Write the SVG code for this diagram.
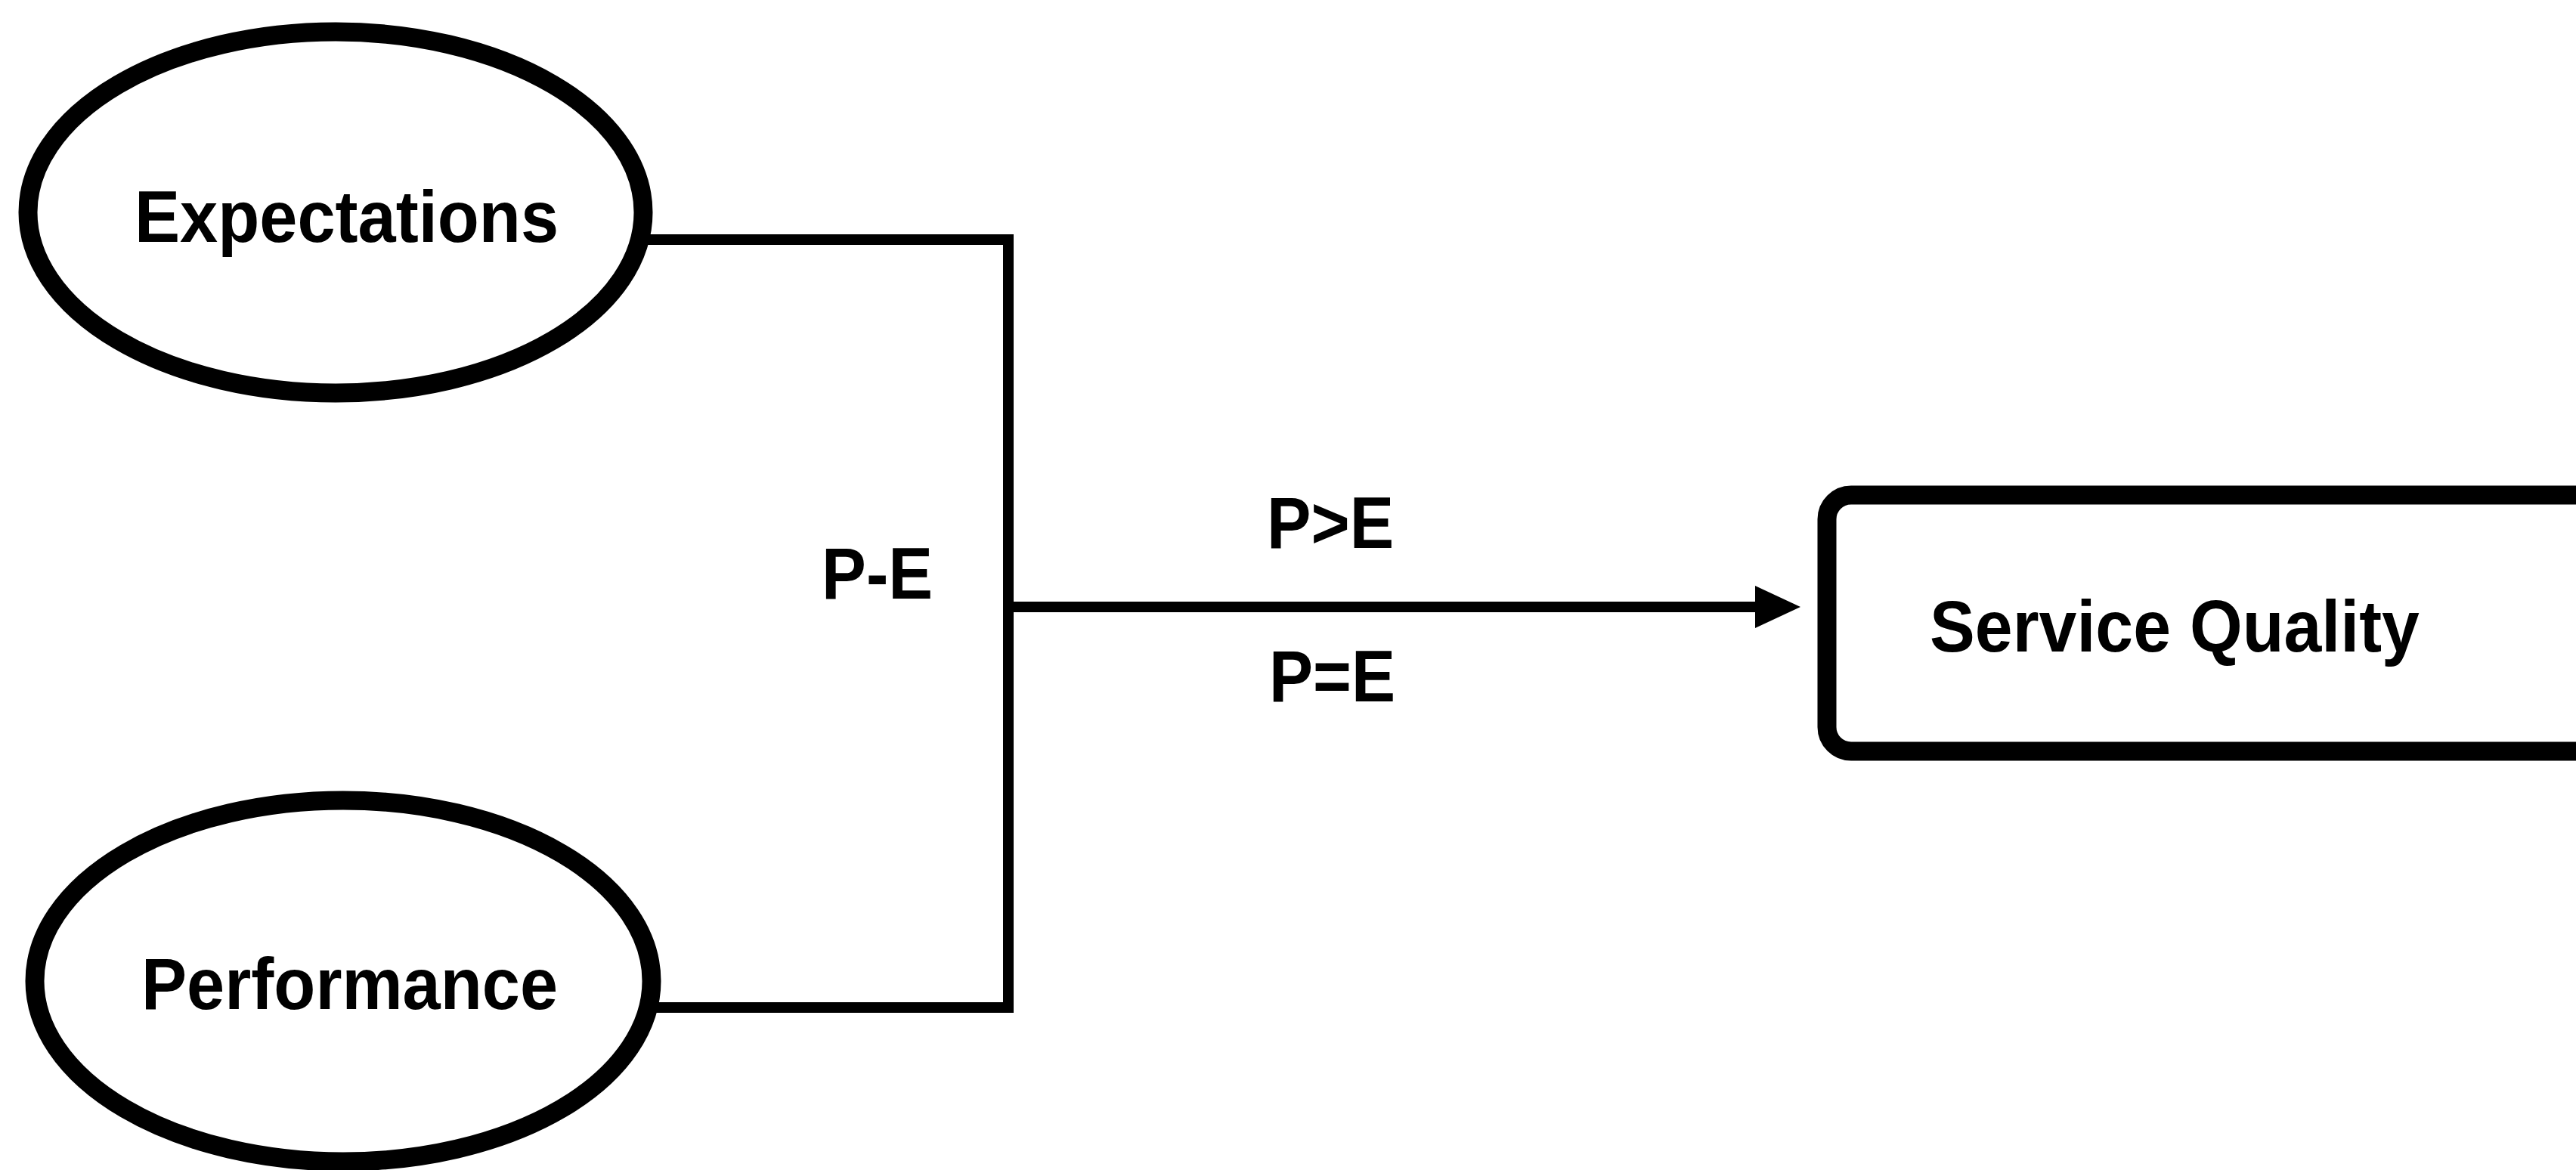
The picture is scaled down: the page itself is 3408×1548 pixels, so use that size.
<svg xmlns="http://www.w3.org/2000/svg" width="3408" height="1548" viewBox="0 0 3408 1548">
<style>
  .node { fill: #ffffff; stroke: #000000; stroke-width: 25; }
  .lbl { font-family: "Liberation Sans", Arial, sans-serif; font-weight: bold; font-size: 96px; fill: #000000; }
  .conn { fill: none; stroke: #000000; stroke-width: 14; stroke-linejoin: miter; }
</style>
<defs>
  <marker id="arrow" markerUnits="userSpaceOnUse" markerWidth="64" markerHeight="60" viewBox="0 0 64 60" refX="20" refY="30" orient="auto">
    <path d="M2,2 L62,30 L2,58 Z" fill="#000000"/>
  </marker>
</defs>
<rect width="3408" height="1548" fill="#ffffff"/>
<g id="connectors">
  <path class="conn" d="M856,317 H1334 V1333 H866"/>
  <path class="conn" d="M1334,803 H2340" marker-end="url(#arrow)"/>
  <text class="lbl" transform="translate(1087,792) scale(0.92,1)">P-E</text>
  <text class="lbl" transform="translate(1676,725) scale(0.913,1)">P&gt;E</text>
  <text class="lbl" transform="translate(1679,928) scale(0.907,1)">P=E</text>
</g>
<g id="expectations">
  <ellipse class="node" cx="444" cy="281" rx="407" ry="239"/>
  <text class="lbl" transform="translate(178,320) scale(0.939,1)">Expectations</text>
</g>
<g id="performance">
  <ellipse class="node" cx="454" cy="1298" rx="408" ry="239"/>
  <text class="lbl" transform="translate(187,1335) scale(0.939,1)">Performance</text>
</g>
<g id="service-quality">
  <rect class="node" x="2417" y="655" width="1100" height="339" rx="32" ry="32"/>
  <text class="lbl" transform="translate(2553,862) scale(0.934,1)">Service Quality</text>
</g>
</svg>
